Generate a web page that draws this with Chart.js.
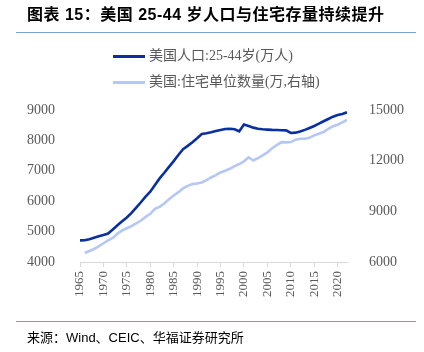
<!DOCTYPE html>
<html><head><meta charset="utf-8">
<script src="https://cdn.jsdelivr.net/npm/chart.js@4.4.1/dist/chart.umd.min.js"></script>
<style>
html,body{margin:0;padding:0;background:#fff;}
#wrap{position:relative;width:424px;height:352px;overflow:hidden;background:#fff;}
canvas{position:absolute;left:0;top:0;}
.t{position:absolute;white-space:nowrap;}
</style></head><body>
<div id="wrap">
<canvas id="c" width="424" height="352"></canvas>
<div class="t" style="left:27px;top:5px;font:bold 16px 'Liberation Sans','Noto Sans CJK SC';color:#000;line-height:20px;letter-spacing:0.5px">图表 15：美国 25-44 岁人口与住宅存量持续提升</div>
<div style="position:absolute;left:16px;top:32px;width:400px;height:1px;background:#7f9fd3"></div>
<div style="position:absolute;left:113px;top:55px;width:32px;height:3px;background:#0a2fa0"></div>
<div class="t" style="left:149px;top:47px;font:14px 'Liberation Serif','Noto Sans CJK SC';color:#595959;line-height:18px">美国人口:25-44岁(万人)</div>
<div style="position:absolute;left:113px;top:81px;width:32px;height:3px;background:#b4c7f5"></div>
<div class="t" style="left:149px;top:73px;font:14px 'Liberation Serif','Noto Sans CJK SC';color:#595959;line-height:18px">美国:住宅单位数量(万,右轴)</div>
<div style="position:absolute;left:16px;top:321px;width:400px;height:1px;background:#7f9fd3"></div>
<div class="t" style="left:27px;top:330px;font:13px 'Liberation Sans','Noto Sans CJK SC';color:#000;line-height:16px">来源：Wind、CEIC、华福证券研究所</div>
</div>
<script>
const years = [1965,1966,1967,1968,1969,1970,1971,1972,1973,1974,1975,1976,1977,1978,1979,
  1980,1981,1982,1983,1984,1985,1986,1987,1988,1989,1990,1991,1992,1993,1994,1995,1996,1997,1998,1999,
  2000,2001,2002,2003,2004,2005,2006,2007,2008,2009,2010,2011,2012,2013,2014,2015,2016,2017,2018,2019,
  2020,2021,2022];
const population = [4710,4715,4750,4800,4850,4890,4935,5070,5210,5340,5465,5615,5790,5965,6150,
  6310,6530,6750,6935,7130,7320,7520,7710,7820,7940,8070,8210,8235,8265,8310,8345,8375,8385,8365,8300,
  8520,8475,8420,8385,8365,8355,8345,8340,8335,8330,8245,8255,8290,8345,8410,8475,8550,8630,8705,8780,
  8835,8870,8925];
const housing = [null,6535,6655,6770,6930,7110,7285,7425,7685,7865,8000,8120,8280,8455,8670,
  8850,9145,9265,9465,9720,9940,10135,10355,10510,10610,10650,10710,10850,11005,11145,11305,11400,11520,11680,11800,
  11960,12200,12010,12150,12310,12490,12730,12925,13100,13085,13100,13240,13300,13300,13360,13500,13595,13695,13890,14035,
  14130,14270,14410];
const leftTicks = [4000,9000,1000];
const rightTicks = [6000,15000,3000];
const seriesNames = ['美国人口:25-44岁(万人)','美国:住宅单位数量(万,右轴)'];

const DARK = '#0a2fa0', LIGHT = '#b4c7f5', GRAY = '#595959';
const tickFont = {family:'Liberation Serif', size:14};

new Chart(document.getElementById('c'), {
  type:'line',
  data:{datasets:[
    {label:seriesNames[0], data:years.map((x,i)=>({x:x,y:population[i]})), borderColor:DARK, backgroundColor:DARK,
     borderWidth:2.6, pointRadius:0, tension:0, yAxisID:'y'},
    {label:seriesNames[1], data:years.map((x,i)=>({x:x,y:housing[i]})), borderColor:LIGHT, backgroundColor:LIGHT,
     borderWidth:2.6, pointRadius:0, tension:0, yAxisID:'y1'}
  ]},
  options:{
    responsive:false, animation:false,
    layout:{padding:{top:110,left:0,right:0,bottom:0}},
    plugins:{legend:{display:false}, tooltip:{enabled:false}},
    scales:{
      x:{type:'linear', min:years[0], max:years[years.length-1],
         ticks:{stepSize:5, includeBounds:false, autoSkip:false, maxRotation:90, minRotation:90, padding:4,
                color:GRAY, font:{family:'Liberation Serif', size:13}, callback:v=>String(v)},
         grid:{display:true, drawOnChartArea:false, drawTicks:true, tickLength:5, color:'#d9d9d9'},
         border:{display:true, color:'#d9d9d9'},
         afterFit:s=>{s.height=90;}},
      y:{position:'left', min:leftTicks[0], max:leftTicks[1],
         ticks:{stepSize:leftTicks[2], padding:17, color:GRAY, font:tickFont, callback:v=>String(v)},
         grid:{display:false}, border:{display:false},
         afterFit:s=>{s.width=80;}},
      y1:{position:'right', min:rightTicks[0], max:rightTicks[1],
         ticks:{stepSize:rightTicks[2], padding:14, color:GRAY, font:tickFont, callback:v=>String(v)},
         grid:{display:false}, border:{display:false},
         afterFit:s=>{s.width=77;}}
    }
  }
});
</script>
</body></html>
